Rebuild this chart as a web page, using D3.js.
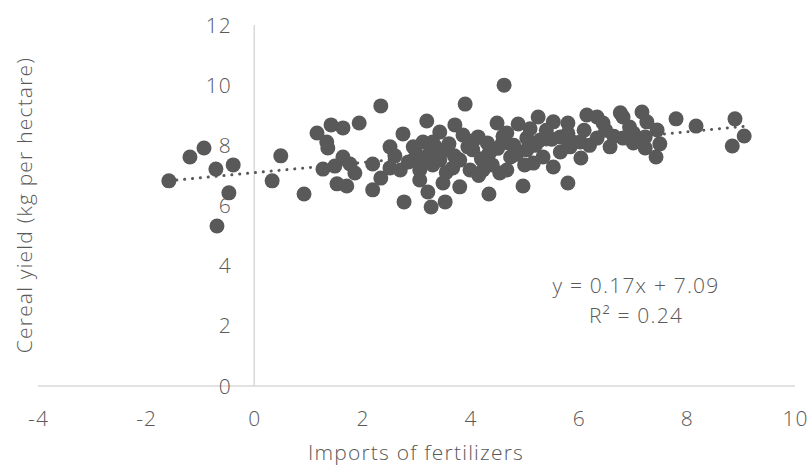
<!DOCTYPE html>
<html>
<head>
<meta charset="utf-8">
<script src="https://cdn.jsdelivr.net/npm/d3@7"></script>
<style>
  body { margin: 0; background: #fff; }
  svg text { font-family: "Open Sans", "Lato", sans-serif; font-weight: 300; fill: #595959; letter-spacing: 1.2px; }
</style>
</head>
<body>
<svg id="chart" width="809" height="465"></svg>
<script>
// imports of fertilizers (x) and cereal yield (y)
const importsX = [
  -1.58, -1.19, -0.93, -0.71, -0.39, -0.47, -0.69,
  0.33, 0.49, 0.92,
  1.16, 1.42, 1.64, 1.94, 1.34, 1.36, 2.34, 1.27, 1.49, 1.64, 1.77, 1.86, 1.53, 1.71, 2.19, 2.34, 2.19, 2.51, 2.51,
  3.90, 4.62, 3.19, 2.75, 3.71, 3.43, 3.30, 4.14, 4.49, 4.31, 3.86, 2.94, 3.12, 3.56, 3.80, 4.04, 4.35, 4.59,
  2.70, 3.06, 3.30, 3.67, 3.99, 4.23, 4.54, 3.06, 3.49, 3.80, 3.21, 2.77, 3.27, 3.53, 4.34, 2.94, 3.43,
  5.25, 4.88, 5.53, 5.80, 4.97, 5.80,
  6.04, 5.53, 5.16, 4.74, 6.15, 6.34, 6.45, 6.77, 6.58, 6.03, 6.34, 5.66, 5.29, 5.04, 4.67, 5.66, 6.82,
  4.67, 5.04, 5.34, 5.84,
  7.17, 7.80, 8.17, 8.89, 9.06, 8.84, 7.43, 7.50, 7.45, 7.23, 7.01, 6.82, 6.94, 7.26, 7.01, 7.23, 6.95,
  3.00, 3.25, 3.60, 3.95, 4.20, 4.50, 4.80, 5.00, 4.40, 3.70, 4.05, 4.60, 5.20, 5.50, 5.80, 6.10,
  6.20, 6.50, 5.90, 4.15, 3.55, 2.85, 2.60, 5.40, 4.85, 3.35, 6.65, 5.10, 3.15
];
const yieldY = [
  6.82, 7.61, 7.91, 7.21, 7.35, 6.42, 5.32,
  6.82, 7.65, 6.38,
  8.41, 8.68, 8.58, 8.74, 8.11, 7.91, 9.31, 7.21, 7.31, 7.61, 7.38, 7.08, 6.72, 6.65, 7.38, 6.91, 6.52, 7.95, 7.25,
  9.37, 10.0, 8.81, 8.38, 8.68, 8.44, 8.11, 8.28, 8.74, 8.08, 8.34, 7.95, 8.11, 7.85, 7.51, 7.85, 7.75, 8.08,
  7.18, 7.18, 7.35, 7.25, 7.18, 7.18, 7.08, 6.85, 6.75, 6.62, 6.45, 6.12, 5.95, 6.12, 6.38, 7.51, 7.51,
  8.94, 8.71, 8.78, 8.74, 6.65, 6.75,
  7.58, 7.28, 7.41, 7.61, 9.01, 8.94, 8.74, 9.08, 7.95, 8.11, 8.24, 7.78, 8.18, 8.24, 8.41, 8.28, 8.24,
  7.18, 7.85, 7.61, 7.95,
  9.11, 8.88, 8.64, 8.88, 8.31, 7.98, 7.61, 8.05, 8.51, 8.28, 8.41, 8.94, 8.61, 8.78, 8.08, 7.91, 8.28,
  7.70, 7.75, 8.05, 7.95, 7.55, 7.90, 8.00, 7.35, 7.35, 7.65, 8.15, 8.30, 8.00, 8.20, 8.40, 8.50,
  8.00, 8.50, 8.10, 7.00, 7.10, 7.45, 7.65, 8.50, 7.70, 7.95, 8.30, 8.55, 7.55
];

const xTicks = [-4, -2, 0, 2, 4, 6, 8, 10];
const yTicks = [0, 2, 4, 6, 8, 10, 12];

// linear trendline as printed on the chart
const trendSlope = 0.17;
const trendIntercept = 7.09;
const trendLabels = ["y = 0.17x + 7.09", "R\u00b2 = 0.24"];

const xTitle = "Imports of fertilizers";
const yTitle = "Cereal yield (kg per hectare)";

const ink = "#595959";
const fontSize = 21;
const svg = d3.select("#chart");

const x = d3.scaleLinear().domain([-4, 10]).range([38, 795]);
const y = d3.scaleLinear().domain([0, 12]).range([386, 25]);

// axis lines cross at the origin
svg.append("line")
  .attr("x1", x(-4)).attr("x2", x(10))
  .attr("y1", y(0)).attr("y2", y(0))
  .attr("stroke", "#d9d9d9").attr("stroke-width", 1.5);
svg.append("line")
  .attr("x1", x(0)).attr("x2", x(0))
  .attr("y1", y(0)).attr("y2", y(12))
  .attr("stroke", "#d9d9d9").attr("stroke-width", 1.5);

// tick labels
svg.selectAll(".xt")
  .data(xTicks)
  .enter().append("text").classed("xt", true)
    .attr("x", d => x(d) + 0.6)
    .attr("y", 426)
    .attr("text-anchor", "middle")
    .attr("font-size", fontSize)
    .text(d => d);

svg.selectAll(".yt")
  .data(yTicks)
  .enter().append("text").classed("yt", true)
    .attr("x", 232)
    .attr("y", d => y(d) + 7.5)
    .attr("text-anchor", "end")
    .attr("font-size", fontSize)
    .text(d => d);

// points
const pts = importsX.map((v, i) => ({x: v, y: yieldY[i]}));
svg.append("g")
  .selectAll("circle")
  .data(pts)
  .enter().append("circle")
    .attr("cx", d => x(d.x))
    .attr("cy", d => y(d.y))
    .attr("r", 7.5)
    .attr("fill", ink);

// trendline over the data range
const ext = d3.extent(importsX);
svg.append("line")
  .attr("x1", x(ext[0])).attr("y1", y(trendSlope * ext[0] + trendIntercept))
  .attr("x2", x(ext[1])).attr("y2", y(trendSlope * ext[1] + trendIntercept))
  .attr("stroke", ink)
  .attr("stroke-width", 3)
  .attr("stroke-linecap", "round")
  .attr("stroke-dasharray", "0.1 7.8");

svg.selectAll(".eq")
  .data(trendLabels)
  .enter().append("text").classed("eq", true)
    .attr("x", 636)
    .attr("y", (d, i) => 293 + i * 30)
    .attr("text-anchor", "middle")
    .attr("font-size", fontSize)
    .text(d => d);

// axis titles
svg.append("text")
  .attr("x", 416).attr("y", 460)
  .attr("text-anchor", "middle")
  .attr("font-size", fontSize)
  .text(xTitle);

svg.append("text")
  .attr("transform", "translate(32," + 205 + ") rotate(-90)")
  .attr("text-anchor", "middle")
  .attr("font-size", fontSize)
  .text(yTitle);
</script>
</body>
</html>
